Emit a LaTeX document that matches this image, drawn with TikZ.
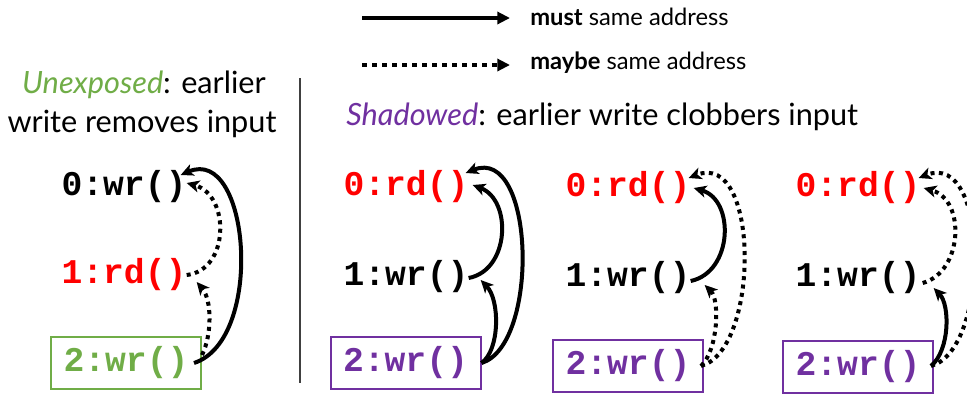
\documentclass[tikz,border=0pt]{standalone}
\usepackage{fontspec}
\setmainfont{Lato}
\newfontfamily\codefont{Liberation Mono}
\usetikzlibrary{arrows.meta,calc}
\definecolor{readred}{HTML}{FF0000}
\definecolor{unexgreen}{HTML}{70AD47}
\definecolor{shadpurple}{HTML}{7030A0}
\tikzset{
  code/.style={font=\codefont\bfseries\fontsize{26pt}{30pt}\selectfont, inner sep=0pt},
  codebox/.style={code, draw, line width=1.5pt, minimum width=112.5pt, minimum height=39pt},
  heading/.style={font=\fontsize{23pt}{26pt}\selectfont, inner sep=0pt},
  legtext/.style={font=\fontsize{17.8pt}{20pt}\selectfont, inner sep=0pt, anchor=mid west},
  must/.style={line width=3pt, -{Stealth[length=9.5pt,width=9pt,inset=2.5pt]}},
  maybe/.style={must, dash pattern=on 3pt off 3.3pt},
  legmust/.style={line width=3pt, -{Triangle[length=9.5pt,width=9pt]}},
  legmaybe/.style={legmust, dash pattern=on 3.75pt off 3.75pt},
}
\begin{document}
\begin{tikzpicture}[x=0.75pt,y=-0.75pt]
  \useasboundingbox (0,0) rectangle (967,394);
  \fill[white] (0,0) rectangle (967,394);
  \clip (0,0) rectangle (967,394);

  % legend
  \coordinate (m1) at (362,18);
  \coordinate (m2) at (510,18);
  \coordinate (y1) at (362,65);
  \coordinate (y2) at (510,65);
  \draw[legmust] (m1) -- (m2);
  \draw[legmaybe] (y1) -- (y2);
  \node[legtext] (lmust) at (530,22) {\textbf{must} same address};
  \node[legtext] (lmaybe) at (530,66) {\textbf{maybe} same address};

  % headings and separator
  \node[heading, anchor=mid] (uh1) at (144,90) {\textcolor{unexgreen}{\textit{Unexposed}}: earlier};
  \node[heading, anchor=mid] (uh2) at (142,129) {write removes input};
  \node[heading, anchor=mid west] (sh) at (346,122) {\textcolor{shadpurple}{\textit{Shadowed}}: earlier write clobbers input};
  \coordinate (sepa) at (300,78);
  \coordinate (sepb) at (300,383);
  \draw[line width=0.9pt, black!75] (sepa) -- (sepb);

  % unexposed column
  \node[code] (u0) at (124,187) {0:wr()};
  \node[code, readred] (u1) at (124,275) {1:rd()};
  \node[codebox, unexgreen] (u2) at (126,363) {2:wr()};
  \draw[must] ($(u2.east)+(-8,0)$) .. controls (265,340) and (250,145) .. ($(u0.east)+(-6,-12)$);
  \draw[maybe] (u1.east) .. controls (230,270) and (230,195) .. ($(u0.east)+(0,-4)$);
  \draw[maybe] ($(u2.east)+(0,-8)$) .. controls (212,335) and (212,300) .. ($(u1.east)+(10,7)$);

  % shadowed: all must
  \node[code, readred] (s0) at (406,187) {0:rd()};
  \node[code] (s1) at (406,277) {1:wr()};
  \node[codebox, shadpurple] (s2) at (405.5,363) {2:wr()};
  \draw[must] ($(s1.east)+(0,1)$) .. controls (510,270) and (512,200) .. ($(s0.east)+(4,-2)$);
  \draw[must] (s2.east) .. controls (500,350) and (500,300) .. ($(s1.east)+(12,3)$);
  \draw[must] (s2.east) .. controls (540,345) and (535,145) .. ($(s0.east)+(-3,-14)$);

  % shadowed: must then maybe
  \node[code, readred] (t0) at (628,188) {0:rd()};
  \node[code] (t1) at (628,278) {1:wr()};
  \node[codebox, shadpurple] (t2) at (628,366) {2:wr()};
  \draw[must] ($(t1.east)+(0,3)$) .. controls (733,272) and (735,200) .. ($(t0.east)+(3,0)$);
  \draw[maybe] ($(t2.east)+(-3,0)$) .. controls (718,350) and (720,300) .. ($(t1.east)+(14,7)$);
  \draw[maybe] ($(t2.east)+(-3,0)$) .. controls (760,350) and (760,150) .. ($(t0.east)+(-2,-10)$);

  % shadowed: maybe then must
  \node[code, readred] (v0) at (858,188) {0:rd()};
  \node[code] (v1) at (858,278) {1:wr()};
  \node[codebox, shadpurple] (v2) at (858,367) {2:wr()};
  \draw[maybe] ($(v1.east)+(2,5)$) .. controls (963,272) and (966,200) .. ($(v0.east)+(3,0)$);
  \draw[must] ($(v2.east)+(-3,-1)$) .. controls (950,350) and (950,305) .. ($(v1.east)+(13,10)$);
  \draw[maybe] ($(v2.east)+(-3,-1)$) .. controls (990,350) and (990,150) .. ($(v0.east)+(-2,-10)$);
\end{tikzpicture}
\end{document}
